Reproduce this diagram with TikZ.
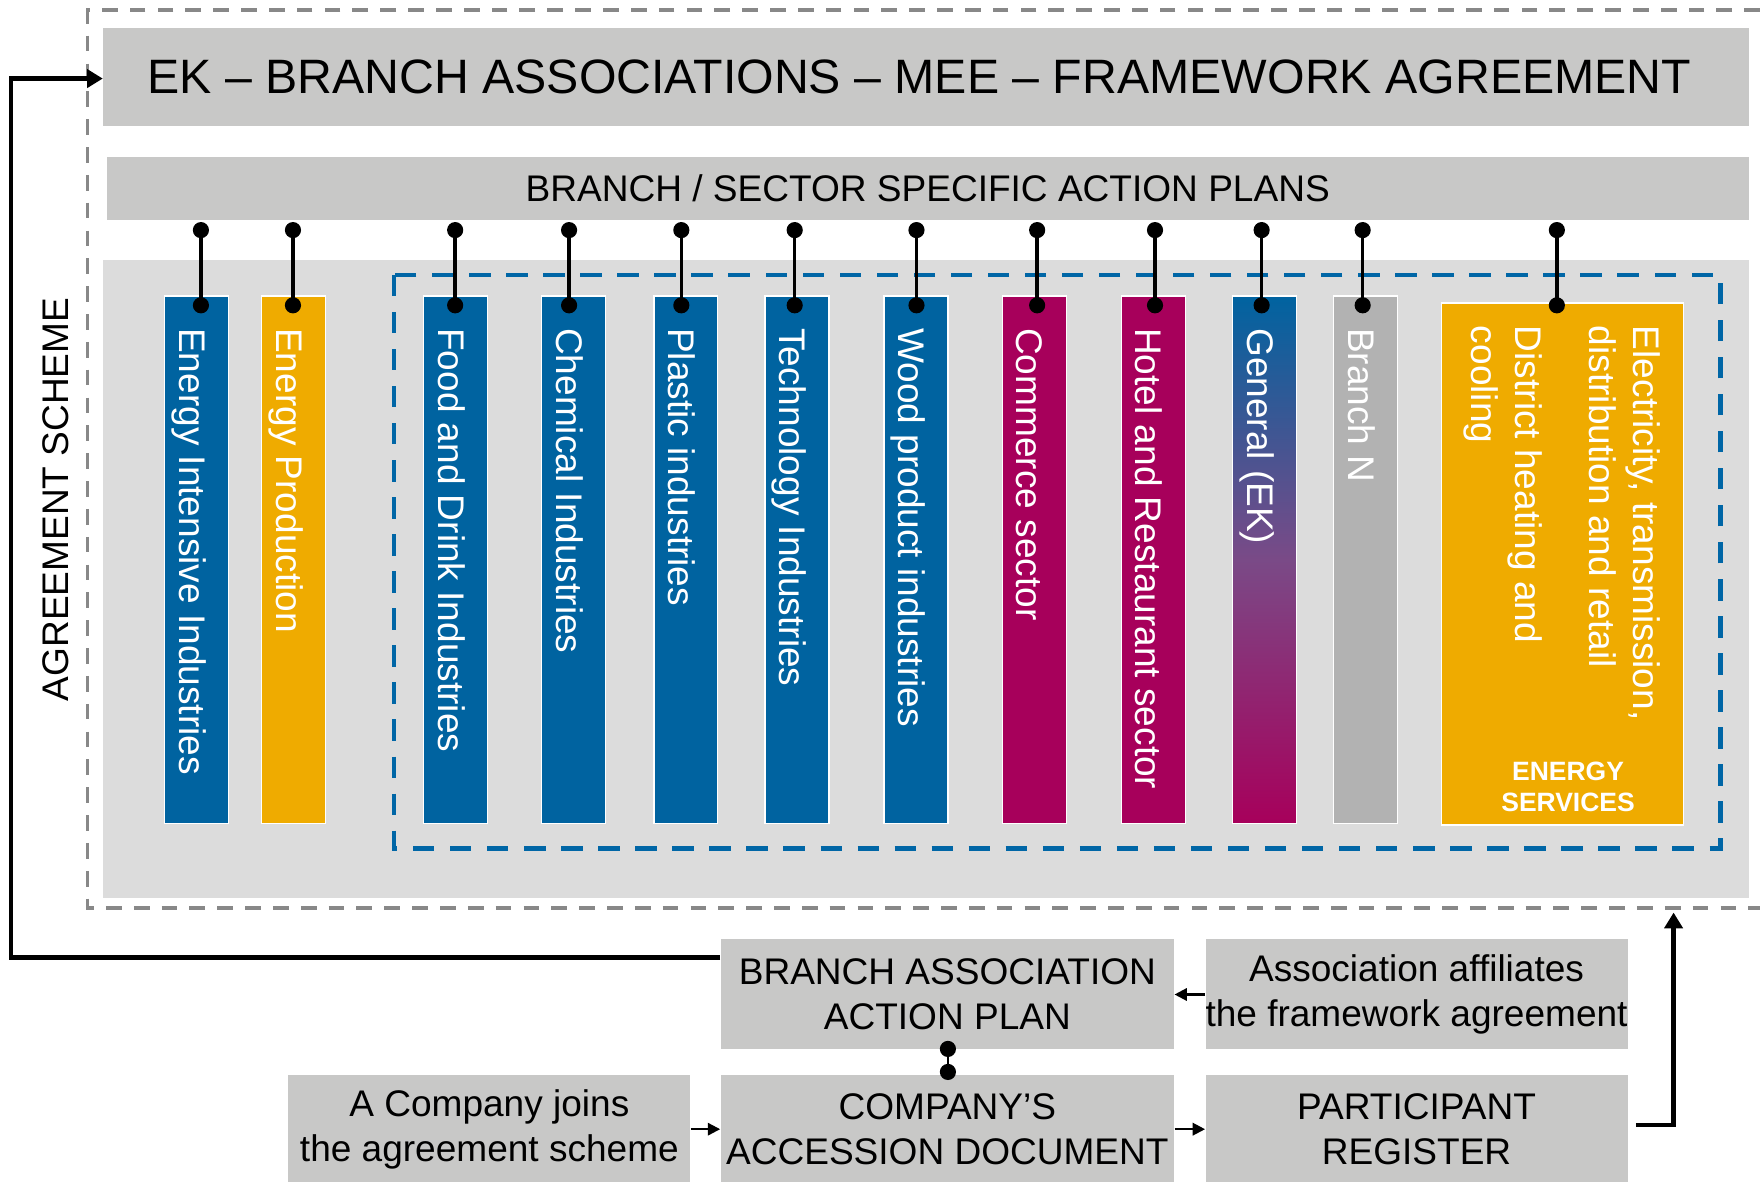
\documentclass[tikz,border=0pt]{standalone}
\usepackage{fontspec}
\setmainfont{Liberation Sans}
\usetikzlibrary{arrows.meta,calc}
\definecolor{boxgray}{RGB}{200,200,199}
\definecolor{panelgray}{RGB}{220,220,220}
\definecolor{ekblue}{RGB}{0,99,160}
\definecolor{ekorange}{RGB}{239,171,0}
\definecolor{ekmag}{RGB}{167,0,91}
\definecolor{ekpurple}{RGB}{122,74,135}
\definecolor{barngray}{RGB}{178,178,178}
\definecolor{dashgray}{RGB}{136,136,136}
\definecolor{dashblue}{RGB}{0,102,166}
\begin{document}
\begin{tikzpicture}[x=0.5pt,y=-0.5pt,
  graybox/.style={fill=boxgray, inner sep=0, align=center, font=\fontsize{16.5}{20}\selectfont},
  bar/.style={draw=white, line width=0.6pt, minimum width=28.5pt, minimum height=235pt, inner sep=0, anchor=north},
  barlabel/.style={rotate=-90, anchor=base west, inner sep=0, text=white, font=\fontsize{16.5}{20}\selectfont},
  dotline/.style={line width=1.5pt},
  dotend/.style={fill=black},
  bigarrow/.style={line width=1.9pt, -{Triangle[length=7pt,width=8pt]}},
  smallarrow/.style={line width=1pt, -{Triangle[length=5.5pt,width=5.5pt]}},
]
\useasboundingbox (0,0) rectangle (1568,1053);

% outer dashed frame (open to the right)
\draw[dashgray, line width=1.6pt, dash pattern=on 7pt off 5.4pt] (1568,9) -- (78,9) -- (78,809) -- (1568,809);

\node[graybox, minimum width=733pt, minimum height=43.5pt, font=\fontsize{21.5}{25}\selectfont] (title) at (825,68.5) {\hspace{-6pt}EK – BRANCH ASSOCIATIONS – MEE – FRAMEWORK AGREEMENT};
\node[graybox, minimum width=731.5pt, minimum height=28pt] (sect) at (826.5,168) {BRANCH / SECTOR SPECIFIC ACTION PLANS};
\node[fill=panelgray, minimum width=733pt, minimum height=284pt, inner sep=0] (panel) at (825,516) {};

\node[rotate=90, inner sep=0, font=\fontsize{16.5}{20}\selectfont] (scheme) at (50,445) {AGREEMENT SCHEME};

% blue dashed group
\draw[dashblue, line width=2pt, dash pattern=on 9.5pt off 7pt] (351,245) rectangle (1533,756);

% bars
\node[bar, fill=ekblue] (b1) at (175,263) {};
\node[bar, fill=ekorange] (b2) at (261.5,263) {};
\node[bar, fill=ekblue] (b3) at (406,263) {};
\node[bar, fill=ekblue] (b4) at (511,263) {};
\node[bar, fill=ekblue] (b5) at (611,263) {};
\node[bar, fill=ekblue] (b6) at (710,263) {};
\node[bar, fill=ekblue] (b7) at (816,263) {};
\node[bar, fill=ekmag] (b8) at (921.5,263) {};
\node[bar, fill=ekmag] (b9) at (1027.5,263) {};
\node[bar, top color=ekblue, bottom color=ekmag, middle color=ekpurple] (b10) at (1126.5,263) {};
\node[bar, fill=barngray] (b11) at (1216.5,263) {};
\node[draw=white, line width=0.6pt, fill=ekorange, minimum width=108pt, minimum height=232.5pt, inner sep=0] (es) at (1392,502.5) {};

\node[barlabel] (l1) at ($(b1.north)+(-15.5,29)$) {Energy Intensive Industries};
\node[barlabel] (l2) at ($(b2.north)+(-15.5,29)$) {Energy Production};
\node[barlabel] (l3) at ($(b3.north)+(-15.5,29)$) {Food and Drink Industries};
\node[barlabel] (l4) at ($(b4.north)+(-15.5,29)$) {Chemical Industries};
\node[barlabel] (l5) at ($(b5.north)+(-15.5,29)$) {Plastic industries};
\node[barlabel] (l6) at ($(b6.north)+(-15.5,29)$) {Technology Industries};
\node[barlabel] (l7) at ($(b7.north)+(-15.5,29)$) {Wood product industries};
\node[barlabel] (l8) at ($(b8.north)+(-15.5,29)$) {Commerce sector};
\node[barlabel] (l9) at ($(b9.north)+(-15.5,29)$) {Hotel and Restaurant sector};
\node[barlabel] (l10) at ($(b10.north)+(-15.5,29)$) {General (EK)};
\node[barlabel] (l11) at ($(b11.north)+(-15.5,29)$) {Branch N};

\node[barlabel] (es1) at (1455,290) {Electricity, transmission,};
\node[barlabel] (es2) at (1416,290) {distribution and retail};
\node[barlabel] (es3) at (1350,290) {District heating and};
\node[barlabel] (es4) at (1311,290) {cooling};
\node[inner sep=0, text=white, align=center, font=\fontsize{11.8}{14}\selectfont\bfseries] (esl) at (1397,701) {ENERGY\\SERVICES};

% connectors from the action plan bar to each branch
\foreach \i/\x in {1/179,2/261,3/405.5,4/507,5/607,6/708,7/816.5,8/924,9/1029,10/1124,11/1214,12/1387}{
  \coordinate (t\i) at (\x,205);
  \coordinate (d\i) at (\x,272);
  \draw[dotline] (t\i) -- (d\i);
  \fill[dotend] (t\i) circle[radius=3.6pt];
  \fill[dotend] (d\i) circle[radius=3.6pt];
}

% bottom process boxes
\node[graybox, minimum width=202pt, minimum height=49pt] (bap) at (844,886) {BRANCH ASSOCIATION\\ACTION PLAN};
\node[graybox, minimum width=188pt, minimum height=49pt] (aff) at (1262,886) {Association affiliates\\the framework agreement};
\node[graybox, minimum width=179pt, minimum height=48pt] (comp) at (436,1006) {A Company joins\\the agreement scheme};
\node[graybox, minimum width=202pt, minimum height=48pt] (acc) at (844,1006) {COMPANY’S\\ACCESSION DOCUMENT};
\node[graybox, minimum width=188pt, minimum height=48pt] (reg) at (1262,1006) {PARTICIPANT\\REGISTER};

\draw[smallarrow] (comp) -- (acc);
\draw[smallarrow] (acc) -- (reg);
\draw[smallarrow] (aff) -- (bap);

\coordinate (m1) at (844.5,934.5);
\coordinate (m2) at (844.5,955);
\draw[line width=1pt] (m1) -- (m2);
\fill[dotend] (m1) circle[radius=3.6pt];
\fill[dotend] (m2) circle[radius=3.6pt];

% feedback loop into the framework agreement
\coordinate (lp1) at (10,853);
\coordinate (lp2) at (10,70);
\draw[bigarrow] (bap.west |- lp1) -- (lp1) -- (lp2) -- (title.west |- lp2);

% participant register back to the agreement scheme
\coordinate (rs) at ($(reg.east)+(7,-4)$);
\coordinate (ra1) at (1491,1002);
\coordinate (ra2) at (1491,813);
\draw[bigarrow] (rs) -- (ra1) -- (ra2);
\end{tikzpicture}
\end{document}
